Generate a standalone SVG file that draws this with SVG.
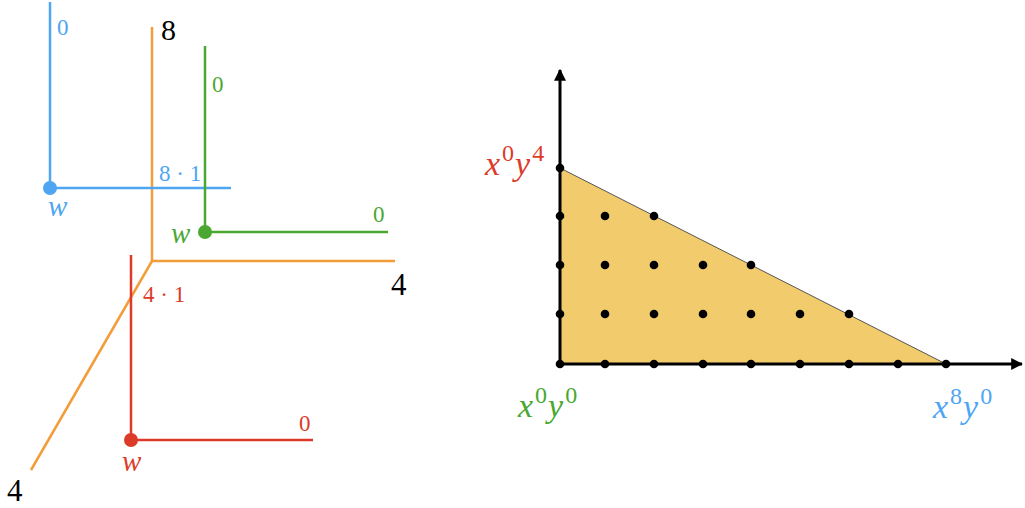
<svg xmlns="http://www.w3.org/2000/svg" width="1025" height="508" viewBox="0 0 1025 508">
<style>
.ln{fill:none;stroke-width:2.5}
.bl{stroke:#4ea5f2}.or{stroke:#f39c3a}.gr{stroke:#4aa832}.rd{stroke:#dd3b2a}
.t{font-family:"Liberation Serif",serif}
.i{font-style:italic}
.tb{fill:#4ea5f2}.tg{fill:#4aa832}.tr{fill:#dd3b2a}.tk{fill:#000}
.ax{stroke:#000;stroke-width:3;fill:none}
.dot{fill:#000}
</style>
<defs>
<marker id="ah" viewBox="0 0 10 10" refX="9" refY="5" markerWidth="4" markerHeight="4" orient="auto" markerUnits="strokeWidth">
<path d="M0,0 L10,5 L0,10 z" fill="#000"/>
</marker>
</defs>
<g id="connectors">
<path id="orange-y" class="ln or" d="M152,27 V261"/>
<path id="orange-x" class="ln or" d="M152,261 H395"/>
<path id="orange-z" class="ln or" d="M152,261 L31,470"/>
<path id="blue-v" class="ln bl" d="M50,2 V188"/>
<path id="blue-h" class="ln bl" d="M50,188 H231"/>
<path id="green-v" class="ln gr" d="M205,46 V232"/>
<path id="green-h" class="ln gr" d="M205,232 H388"/>
<path id="red-v" class="ln rd" d="M131,255 V440"/>
<path id="red-h" class="ln rd" d="M131,440 H313"/>
</g>
<g id="axis-labels">
<text class="t tk" x="161" y="40" font-size="30">8</text>
<text class="t tk" x="391" y="295" font-size="31">4</text>
<text class="t tk" x="7" y="501" font-size="31">4</text>
</g>
<g id="node-blue">
<circle cx="50" cy="188" r="7" fill="#4ea5f2"/>
<text class="t tb" x="57" y="35" font-size="23">0</text>
<text class="t tb i" x="48" y="216" font-size="29">w</text>
<text class="t tb" x="159" y="181" font-size="23">8 · 1</text>
</g>
<g id="node-green">
<circle cx="205" cy="232" r="7" fill="#4aa832"/>
<text class="t tg" x="212" y="92" font-size="23">0</text>
<text class="t tg" x="373" y="222" font-size="23">0</text>
<text class="t tg i" x="171" y="243" font-size="29">w</text>
</g>
<g id="node-red">
<circle cx="131" cy="440" r="7" fill="#dd3b2a"/>
<text class="t tr" x="143" y="302" font-size="23">4 · 1</text>
<text class="t tr" x="299" y="431" font-size="23">0</text>
<text class="t tr i" x="122" y="471" font-size="29">w</text>
</g>
<g id="newton-polygon">
<polygon points="560,168 946,364 560,364" fill="#f2cb6c"/>
<line x1="560" y1="168" x2="946" y2="364" stroke="#555" stroke-width="1"/>
</g>
<g id="axes">
<line class="ax" x1="560" y1="364" x2="560" y2="70" marker-end="url(#ah)"/>
<line class="ax" x1="560" y1="364" x2="1022" y2="364" marker-end="url(#ah)"/>
</g>
<g id="lattice">
<circle class="dot" cx="560" cy="364" r="4.3"/><circle class="dot" cx="605" cy="364" r="4.3"/><circle class="dot" cx="654" cy="364" r="4.3"/><circle class="dot" cx="703" cy="364" r="4.3"/><circle class="dot" cx="751" cy="364" r="4.3"/><circle class="dot" cx="800" cy="364" r="4.3"/><circle class="dot" cx="849" cy="364" r="4.3"/><circle class="dot" cx="898" cy="364" r="4.3"/><circle class="dot" cx="946" cy="364" r="4.3"/>
<circle class="dot" cx="560" cy="314" r="4.3"/><circle class="dot" cx="605" cy="314" r="4.3"/><circle class="dot" cx="654" cy="314" r="4.3"/><circle class="dot" cx="703" cy="314" r="4.3"/><circle class="dot" cx="751" cy="314" r="4.3"/><circle class="dot" cx="800" cy="314" r="4.3"/><circle class="dot" cx="849" cy="314" r="4.3"/>
<circle class="dot" cx="560" cy="265" r="4.3"/><circle class="dot" cx="605" cy="265" r="4.3"/><circle class="dot" cx="654" cy="265" r="4.3"/><circle class="dot" cx="703" cy="265" r="4.3"/><circle class="dot" cx="751" cy="265" r="4.3"/>
<circle class="dot" cx="560" cy="216" r="4.3"/><circle class="dot" cx="605" cy="216" r="4.3"/><circle class="dot" cx="654" cy="216" r="4.3"/>
<circle class="dot" cx="560" cy="168" r="4.3"/>
</g>
<g id="label-x0y4">
<text class="t tr" x="485" y="175" font-size="34"><tspan class="i">x</tspan><tspan font-size="24" dx="2" dy="-14">0</tspan><tspan class="i" font-size="34" dx="1" dy="14">y</tspan><tspan font-size="24" dx="2" dy="-14">4</tspan></text>
</g>
<g id="label-x0y0">
<text class="t tg" x="518" y="417" font-size="34"><tspan class="i">x</tspan><tspan font-size="24" dx="2" dy="-14">0</tspan><tspan class="i" font-size="34" dx="1" dy="14">y</tspan><tspan font-size="24" dx="2" dy="-14">0</tspan></text>
</g>
<g id="label-x8y0">
<text class="t tb" x="933" y="418" font-size="34"><tspan class="i">x</tspan><tspan font-size="24" dx="2" dy="-14">8</tspan><tspan class="i" font-size="34" dx="1" dy="14">y</tspan><tspan font-size="24" dx="2" dy="-14">0</tspan></text>
</g>
</svg>
